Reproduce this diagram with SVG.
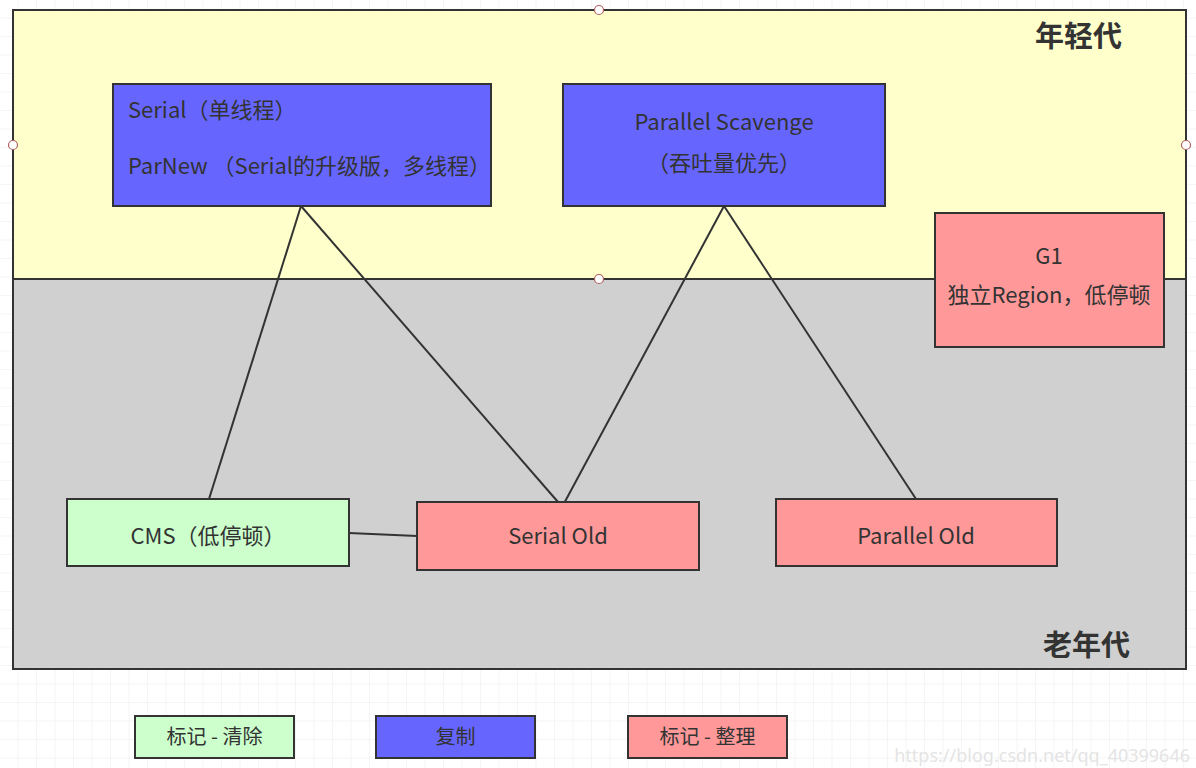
<svg xmlns="http://www.w3.org/2000/svg" width="1196" height="768" viewBox="0 0 1196 768">
<defs>
<pattern id="grid" width="18.5" height="18.5" patternUnits="userSpaceOnUse">
<path d="M18.5 0V18.5H0" fill="none" stroke="#ebebeb" stroke-width="1"/>
</pattern>
<style>
.box{stroke:#333;stroke-width:2}
.t{font-family:"Noto Sans CJK SC","Noto Sans",sans-serif;font-size:22px;fill:#333}
.c{text-anchor:middle}
.title{font-family:"Noto Sans CJK SC",sans-serif;font-size:29px;font-weight:bold;fill:#333}
.lg{font-family:"Noto Sans CJK SC",sans-serif;font-size:20px;fill:#333;text-anchor:middle}
.pt{fill:#fff;stroke:#b06060;stroke-width:1.2}
.conn{stroke:#333;stroke-width:2;fill:none}
</style>
</defs>
<rect width="1196" height="768" fill="#fff"/>
<rect width="1196" height="768" fill="url(#grid)"/>
<g id="young">
<rect class="box" x="13" y="10" width="1173" height="269" fill="#ffffcc"/>
<text class="title" x="1035" y="47">年轻代</text>
</g>
<g id="old">
<rect class="box" x="13" y="279" width="1173" height="390" fill="#d0d0d0"/>
<text class="title" x="1043" y="656">老年代</text>
</g>
<g id="handles">
<circle class="pt" cx="599" cy="10" r="4.5"/>
<circle class="pt" cx="13" cy="145" r="4.5"/>
<circle class="pt" cx="1186" cy="145" r="4.5"/>
<circle class="pt" cx="599" cy="279" r="4.5"/>
</g>
<g id="connectors">
<line class="conn" x1="301" y1="206" x2="209" y2="499"/>
<line class="conn" x1="301" y1="206" x2="558" y2="502"/>
<line class="conn" x1="724" y1="206" x2="561" y2="509"/>
<line class="conn" x1="724" y1="206" x2="916" y2="499"/>
<line class="conn" x1="349" y1="533" x2="417" y2="536"/>
</g>
<g id="serial">
<rect class="box" x="113" y="84" width="378" height="122" fill="#6666ff"/>
<text class="t" x="128" y="118">Serial（单线程）</text>
<text class="t" x="128" y="174">ParNew （Serial的升级版，多线程）</text>
</g>
<g id="parallel-scavenge">
<rect class="box" x="563" y="84" width="322" height="122" fill="#6666ff"/>
<text class="t c" x="724" y="130">Parallel Scavenge</text>
<text class="t c" x="724" y="171">（吞吐量优先）</text>
</g>
<g id="g1">
<rect class="box" x="935" y="213" width="229" height="134" fill="#ff9999"/>
<text class="t c" x="1049" y="264">G1</text>
<text class="t c" x="1049" y="303">独立Region，低停顿</text>
</g>
<g id="cms">
<rect class="box" x="67" y="499" width="282" height="67" fill="#ccffcc"/>
<text class="t c" x="208" y="544">CMS（低停顿）</text>
</g>
<g id="serial-old">
<rect class="box" x="417" y="502" width="282" height="68" fill="#ff9999"/>
<text class="t c" x="558" y="544">Serial Old</text>
</g>
<g id="parallel-old">
<rect class="box" x="776" y="499" width="281" height="67" fill="#ff9999"/>
<text class="t c" x="916" y="544">Parallel Old</text>
</g>
<g id="legend-mark-sweep">
<rect class="box" x="135" y="716" width="159" height="42" fill="#ccffcc"/>
<text class="lg" x="214.5" y="744">标记 - 清除</text>
</g>
<g id="legend-copy">
<rect class="box" x="376" y="716" width="159" height="42" fill="#6666ff"/>
<text class="lg" x="455.5" y="744">复制</text>
</g>
<g id="legend-mark-compact">
<rect class="box" x="628" y="716" width="159" height="42" fill="#ff9999"/>
<text class="lg" x="707.5" y="744">标记 - 整理</text>
</g>
<text x="1190" y="762" text-anchor="end" font-family="Noto Sans,sans-serif" font-size="18" fill="#e4e4e4">https://blog.csdn.net/qq_40399646</text>
</svg>
